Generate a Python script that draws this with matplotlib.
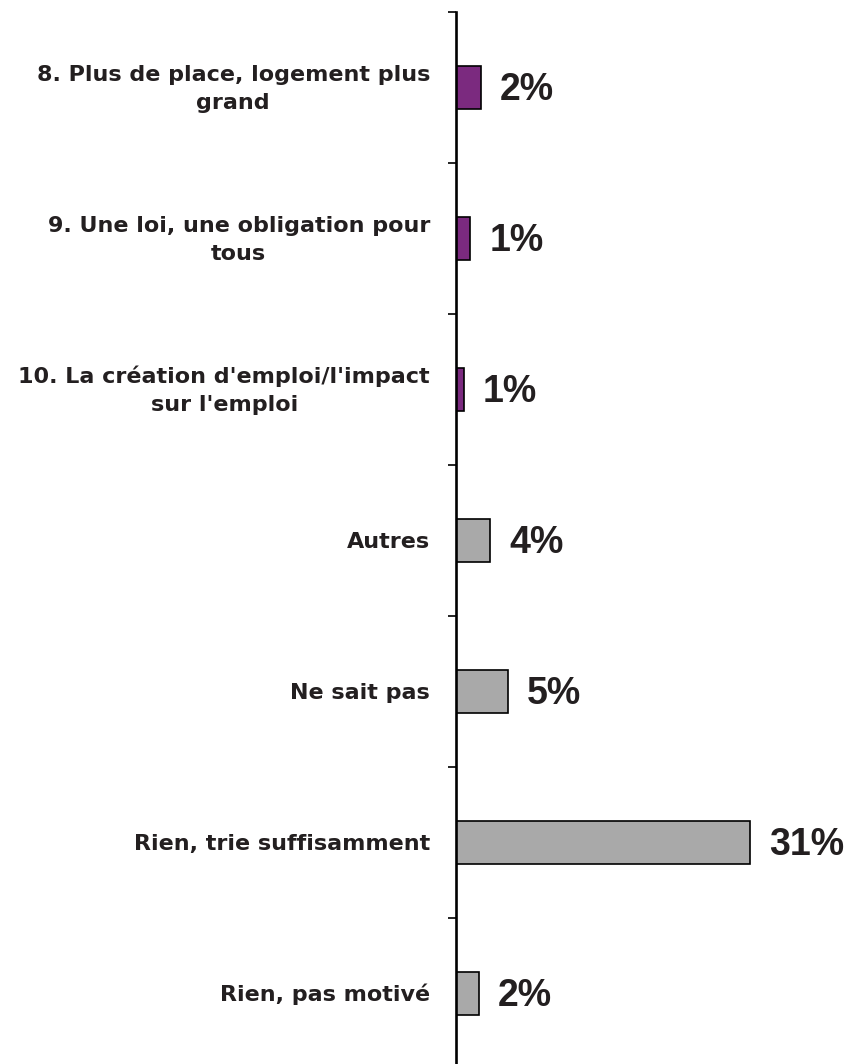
import matplotlib
matplotlib.use("Agg")
import matplotlib.pyplot as plt
import numpy as np

categories = [
    "8. Plus de place, logement plus\ngrand",
    "9. Une loi, une obligation pour\ntous",
    "10. La création d'emploi/l'impact\nsur l'emploi",
    "Autres",
    "Ne sait pas",
    "Rien, trie suffisamment",
    "Rien, pas motivé",
]
values = [2.6, 1.5, 0.8, 3.6, 5.5, 31.0, 2.4]
value_labels = ["2%", "1%", "1%", "4%", "5%", "31%", "2%"]
groups = ["purple", "purple", "purple", "gray", "gray", "gray", "gray"]

colors = {"purple": "#7B2A7F", "gray": "#A9A9A9"}
text_color = "#231F20"

plt.rcParams['font.family'] = ['Liberation Sans', 'DejaVu Sans']

W, H = 854, 1064
fig = plt.figure(figsize=(W / 100, H / 100), dpi=100)
ax_left = 456 / W
ax_top = 12
ax_bottom = 12 + 7 * 151
ax = fig.add_axes([ax_left, 1 - ax_bottom / H, 379.2 / W, (ax_bottom - ax_top) / H])

y = np.arange(len(categories))
ax.barh(y, values, height=0.29, color=[colors[g] for g in groups],
        edgecolor="black", linewidth=1.2, zorder=2)

ax.set_xlim(0, 40)
ax.set_ylim(len(categories) - 0.5, -0.5)

for s in ["top", "right", "bottom"]:
    ax.spines[s].set_visible(False)
ax.spines["left"].set_linewidth(1.9)
ax.spines["left"].set_color("black")
ax.set_xticks([])
ax.set_yticks(np.arange(-0.5, len(categories), 1))
ax.set_yticklabels([])
ax.tick_params(axis="y", length=6, width=1.2, direction="out", color="black")

for yi, cat in zip(y, categories):
    ax.annotate(cat, xy=(0, yi), xytext=(-26 * 0.72, -1 * 0.72), textcoords="offset points",
                ha="right", va="center", multialignment="center",
                fontsize=16, fontweight="bold", color=text_color,
                family=["DejaVu Sans"], linespacing=1.5)

for yi, v, lab in zip(y, values, value_labels):
    ax.annotate(lab, xy=(v, yi), xytext=(19 * 0.72, -2 * 0.72), textcoords="offset points",
                ha="left", va="center", fontsize=27, fontweight="bold", color=text_color)

fig.savefig("out.png", dpi=100)
